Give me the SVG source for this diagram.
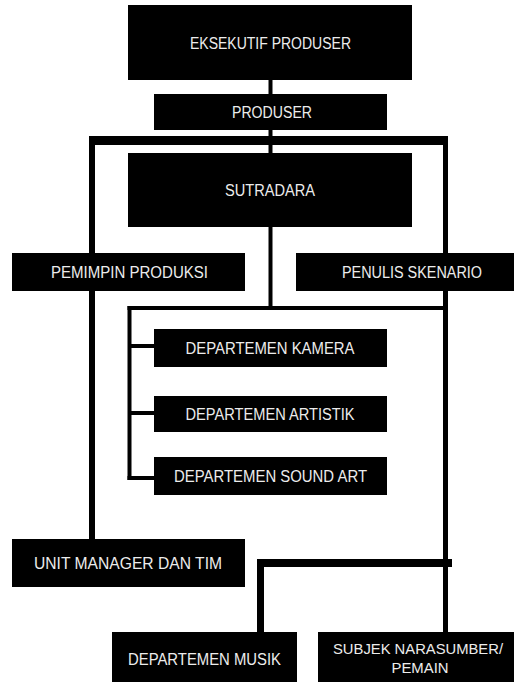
<svg xmlns="http://www.w3.org/2000/svg" width="514" height="682" viewBox="0 0 514 682">
<style>
.box{fill:#000;}
.lbl{fill:#ececec;font-family:"Liberation Sans",Arial,sans-serif;font-size:16px;text-anchor:middle;}
.sm{font-size:15px;}
.ln{stroke:#000;fill:none;stroke-linecap:butt;}
</style>
<rect x="0" y="0" width="514" height="682" fill="#fff"/>
<g id="connectors">
<line class="ln" x1="270.5" y1="78" x2="270.5" y2="96" stroke-width="4"/>
<line class="ln" x1="270.5" y1="128" x2="270.5" y2="155" stroke-width="4"/>
<line class="ln" x1="89" y1="140.5" x2="448" y2="140.5" stroke-width="9"/>
<line class="ln" x1="92" y1="136" x2="92" y2="541" stroke-width="6"/>
<line class="ln" x1="445.5" y1="136" x2="445.5" y2="634" stroke-width="5"/>
<line class="ln" x1="270.5" y1="225" x2="270.5" y2="310" stroke-width="4"/>
<line class="ln" x1="127.5" y1="308" x2="445" y2="308" stroke-width="4"/>
<line class="ln" x1="129.5" y1="306" x2="129.5" y2="480" stroke-width="4"/>
<line class="ln" x1="129.5" y1="346" x2="156" y2="346" stroke-width="4"/>
<line class="ln" x1="129.5" y1="413" x2="156" y2="413" stroke-width="4"/>
<line class="ln" x1="127.5" y1="478" x2="156" y2="478" stroke-width="4"/>
<line class="ln" x1="257" y1="563" x2="452" y2="563" stroke-width="8"/>
<line class="ln" x1="260.5" y1="559" x2="260.5" y2="634" stroke-width="7"/>
</g>
<g id="eksekutif-produser">
<rect class="box" x="128" y="5" width="284" height="75"/>
<text class="lbl" x="270.5" y="49" textLength="161" lengthAdjust="spacingAndGlyphs">EKSEKUTIF PRODUSER</text>
</g>
<g id="produser">
<rect class="box" x="154" y="94" width="233" height="36"/>
<text class="lbl" x="272" y="117.5" textLength="80" lengthAdjust="spacingAndGlyphs">PRODUSER</text>
</g>
<g id="sutradara">
<rect class="box" x="128" y="153" width="284" height="74"/>
<text class="lbl" x="270" y="196" textLength="90" lengthAdjust="spacingAndGlyphs">SUTRADARA</text>
</g>
<g id="pemimpin-produksi">
<rect class="box" x="12" y="253" width="233" height="38"/>
<text class="lbl" x="129.5" y="277.5" textLength="157" lengthAdjust="spacingAndGlyphs">PEMIMPIN PRODUKSI</text>
</g>
<g id="penulis-skenario">
<rect class="box" x="296" y="253" width="218" height="38"/>
<text class="lbl" x="412" y="277.5" textLength="140" lengthAdjust="spacingAndGlyphs">PENULIS SKENARIO</text>
</g>
<g id="departemen-kamera">
<rect class="box" x="154" y="329" width="233" height="38"/>
<text class="lbl" x="270" y="354" textLength="169" lengthAdjust="spacingAndGlyphs">DEPARTEMEN KAMERA</text>
</g>
<g id="departemen-artistik">
<rect class="box" x="154" y="396" width="233" height="36"/>
<text class="lbl" x="270" y="420" textLength="169" lengthAdjust="spacingAndGlyphs">DEPARTEMEN ARTISTIK</text>
</g>
<g id="departemen-sound-art">
<rect class="box" x="154" y="457" width="233" height="38"/>
<text class="lbl" x="270.5" y="482" textLength="193" lengthAdjust="spacingAndGlyphs">DEPARTEMEN SOUND ART</text>
</g>
<g id="unit-manager">
<rect class="box" x="12" y="539" width="233" height="48"/>
<text class="lbl" x="128" y="569" textLength="188" lengthAdjust="spacingAndGlyphs">UNIT MANAGER DAN TIM</text>
</g>
<g id="departemen-musik">
<rect class="box" x="112" y="632" width="185" height="50"/>
<text class="lbl" x="204.5" y="665" textLength="153" lengthAdjust="spacingAndGlyphs">DEPARTEMEN MUSIK</text>
</g>
<g id="subjek-narasumber">
<rect class="box" x="318" y="632" width="196" height="50"/>
<text class="lbl sm" x="418" y="654" textLength="170" lengthAdjust="spacingAndGlyphs">SUBJEK NARASUMBER/</text>
<text class="lbl sm" x="420" y="673" textLength="57" lengthAdjust="spacingAndGlyphs">PEMAIN</text>
</g>
</svg>
